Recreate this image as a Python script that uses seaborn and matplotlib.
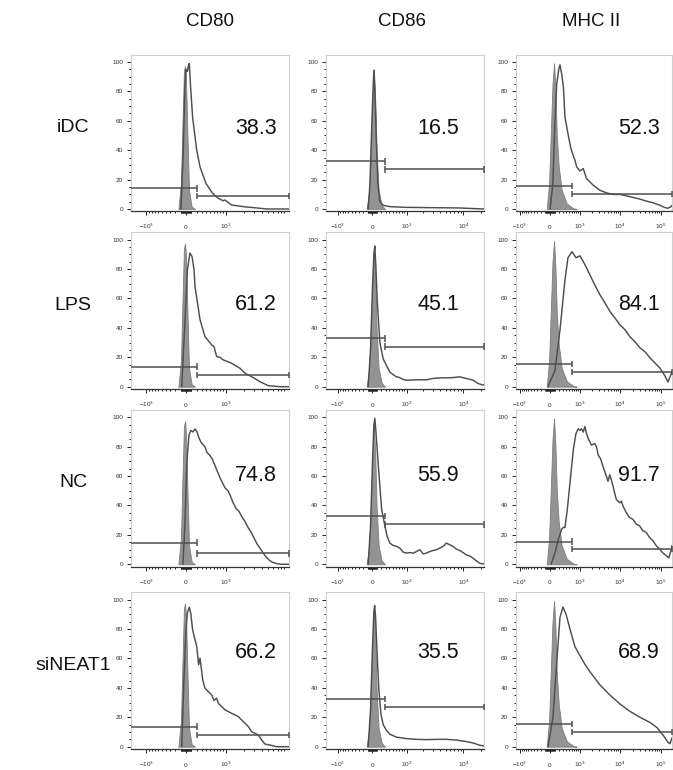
import numpy as np
import matplotlib
matplotlib.use("Agg")
import matplotlib.pyplot as plt
import matplotlib.transforms as mtransforms
import seaborn as sns

# ---------------- data (x in display channel units 0-100, y = % of max) ----------------
markers = ["CD80", "CD86", "MHC II"]
groups = ["iDC", "LPS", "NC", "siNEAT1"]
percents = [["38.3", "16.5", "52.3"],
            ["61.2", "45.1", "84.1"],
            ["74.8", "55.9", "91.7"],
            ["66.2", "35.5", "68.9"]]

# isotype controls (grey filled), one per marker
iso_cd80_x = [30.0, 31.6, 32.7, 33.5, 34.2, 34.8, 35.7, 36.7, 38.4, 40.5]
iso_cd80_y = [0, 17.3, 62.4, 93.9, 97.3, 89.4, 51.1, 12.8, 1.6, 0]
iso_cd86_x = [25.7, 27.4, 28.4, 29.5, 30.3, 31.2, 32.0, 33.3, 35.2, 37.3]
iso_cd86_y = [0, 12.8, 39.9, 73.6, 95.0, 73.6, 39.9, 12.8, 2.7, 0]
iso_mhc_x = [19.7, 21.2, 22.3, 23.4, 24.4, 25.3, 26.1, 27.4, 29.3, 32.5, 36.7, 38.9]
iso_mhc_y = [0, 17.3, 51.1, 84.9, 99.1, 80.4, 51.1, 28.6, 12.8, 3.8, 0.5, 0]

# stained samples (open line)
idc_cd80_x = [31.6, 33.1, 34.2, 34.8, 35.7, 36.5, 36.9, 37.6, 39.0, 41.6, 43.7, 47.5, 51.7, 55.3, 58.4, 59.5, 63.7, 71.1, 81.6, 85.9, 100]
idc_cd80_y = [0, 39.9, 84.9, 95.0, 93.5, 98.4, 98.9, 84.9, 62.4, 39.9, 28.6, 17.3, 10.6, 7.2, 5.6, 6.1, 2.7, 1.6, 0.5, 0, 0]
lps_cd80_x = [32.1, 34.2, 35.7, 37.3, 38.6, 39.9, 40.5, 43.7, 46.8, 51.1, 52.5, 54.2, 56.3, 58.4, 63.7, 69.0, 72.2, 76.4, 81.6, 86.9, 94.3, 100]
lps_cd80_y = [0, 45.5, 79.5, 90.9, 88.6, 79.5, 68.2, 45.5, 34.1, 28.4, 27.3, 20.5, 20.0, 18.2, 15.9, 12.5, 9.1, 6.8, 3.4, 0.7, 0, 0]
nc_cd80_x = [32.9, 34.2, 35.4, 36.7, 37.9, 39.2, 40.5, 41.8, 43.0, 44.3, 46.8, 48.1, 50.0, 51.3, 53.2, 55.1, 56.3, 57.6, 59.5, 61.4, 62.7, 64.6, 66.5, 68.4, 70.3, 72.2, 74.1, 75.9, 77.8, 79.7, 81.6, 83.5, 85.4, 87.3, 89.2, 92.0, 95.0, 100]
nc_cd80_y = [0, 30, 70, 88, 91, 90, 92, 90, 86, 83, 80, 76, 74, 72, 67, 62, 59, 56, 52, 50, 47, 42, 38, 36, 32, 29, 25, 22, 18, 14, 11, 8, 5, 3, 1.5, 0.5, 0, 0]
si_cd80_x = [32.1, 33.5, 34.8, 35.7, 36.9, 37.8, 39.0, 40.5, 41.6, 42.8, 43.7, 44.1, 45.4, 46.8, 48.9, 51.1, 52.5, 54.2, 55.3, 57.4, 59.5, 61.6, 63.7, 65.8, 67.9, 70.0, 72.2, 74.3, 76.4, 78.5, 80.6, 82.7, 84.8, 88.0, 92.2, 100]
si_cd80_y = [0, 45.5, 79.5, 90.9, 95.0, 90.9, 79.5, 72.7, 68.2, 55.7, 60.2, 56.8, 45.5, 39.8, 37.5, 35.2, 31.4, 33.0, 29.5, 27.3, 25.0, 23.9, 22.7, 21.6, 20.5, 18.2, 15.9, 13.6, 10.2, 9.1, 8.0, 4.5, 1.8, 1.1, 0, 0]

idc_cd86_x = [26.7, 27.8, 28.8, 29.7, 30.3, 30.9, 31.8, 32.8, 34.1, 36.2, 40.4, 50.9, 67.8, 84.6, 95.2, 100]
idc_cd86_y = [0, 17, 51, 80, 94.4, 82.4, 48.9, 17.3, 5.0, 2.5, 1.6, 1.1, 0.9, 0.7, 0.2, 0]
lps_cd86_x = [26.7, 28.2, 29.5, 30.3, 30.9, 31.6, 32.4, 34.1, 36.2, 38.3, 40.4, 42.5, 44.6, 46.7, 48.8, 50.9, 57.3, 63.6, 67.8, 72.0, 76.2, 80.4, 84.6, 88.8, 93.1, 96.2, 99.4, 100]
lps_cd86_y = [0, 25.6, 70, 90, 95.6, 81.1, 58.9, 30, 18.9, 14.4, 10, 8.2, 6.7, 6.2, 4.9, 4.4, 4.7, 4.7, 5.6, 6.0, 6.0, 6.2, 6.7, 5.6, 4.4, 2.2, 1.1, 1.5]
nc_cd86_x = [26.7, 28.2, 29.5, 30.3, 30.9, 31.6, 33.1, 35.2, 37.3, 38.7, 40.4, 42.5, 44.6, 46.7, 48.8, 50.9, 53.1, 55.2, 57.3, 59.4, 61.5, 63.6, 65.7, 67.8, 69.9, 72.0, 74.1, 76.2, 78.3, 80.4, 82.5, 84.6, 86.7, 88.8, 90.9, 93.1, 95.2, 97.3, 99.4, 100]
nc_cd86_y = [0, 25.9, 71.8, 94.7, 99.3, 90.1, 67.2, 37.4, 25.9, 19.0, 14.4, 12.8, 12.2, 11.0, 8.3, 7.6, 8.0, 7.6, 8.7, 9.9, 7.1, 7.6, 8.7, 9.4, 9.9, 11.0, 12.2, 14.4, 13.3, 12.2, 10.3, 9.4, 8.0, 6.4, 5.7, 4.1, 2.3, 0.7, 0.2, 0.7]
si_cd86_x = [26.7, 28.2, 29.5, 30.3, 30.8, 31.4, 32.4, 33.5, 34.8, 36.2, 38.3, 40.4, 44.6, 50.9, 57.3, 63.6, 69.9, 76.2, 82.5, 88.8, 93.1, 97.3, 100]
si_cd86_y = [0, 25, 70, 92, 96, 88, 62, 38, 22, 15, 11, 8.5, 6.5, 5.5, 5, 4.8, 5, 5, 4.5, 3.5, 2.5, 1, 0.5]

idc_mhc_x = [21.9, 23.6, 25.1, 26.1, 27.4, 28.2, 29.3, 30.4, 31.4, 32.9, 35.0, 36.3, 37.8, 38.9, 41.0, 43.1, 45.2, 49.5, 53.7, 58.0, 62.2, 66.5, 70.7, 74.9, 79.2, 83.4, 87.7, 91.9, 95.1, 97.2, 99.4, 100]
idc_mhc_y = [0, 17.3, 62.4, 84.9, 95.0, 98.0, 91.7, 82.7, 62.4, 53.6, 42.1, 37.6, 33.1, 28.6, 25.9, 27.5, 20.7, 16.2, 12.8, 11.0, 9.9, 9.9, 9.0, 7.9, 6.8, 5.4, 4.3, 2.7, 1.1, 0.5, 1.6, 2.5]
lps_mhc_x = [20.5, 25.0, 28.2, 31.4, 33.3, 35.9, 38.5, 41.0, 44.2, 47.4, 50.6, 53.8, 57.0, 60.3, 63.5, 66.7, 70.0, 73.0, 76.3, 79.5, 82.7, 85.9, 89.0, 92.3, 95.5, 97.4, 98.7, 100]
lps_mhc_y = [0, 11, 38.6, 72.7, 87.7, 91.8, 87.7, 89, 83, 76, 69, 62.5, 57, 51, 46.6, 42, 38.6, 34, 30.5, 26.4, 23.7, 19.6, 16.2, 12.7, 7.3, 3.2, 6.6, 10]
nc_mhc_x = [22.5, 25.1, 27.2, 29.3, 30.4, 31.4, 32.9, 34.6, 36.7, 38.4, 39.9, 41.0, 42.0, 43.1, 44.2, 45.2, 46.3, 48.4, 50.5, 51.6, 52.7, 54.1, 55.8, 58.0, 59.0, 60.1, 61.1, 62.2, 64.3, 66.5, 67.5, 68.6, 70.7, 72.8, 74.9, 77.1, 79.2, 81.3, 83.4, 85.6, 87.7, 89.8, 91.9, 94.1, 96.2, 97.9, 99.4, 100]
nc_mhc_y = [0, 8.3, 17.2, 23.9, 25.1, 25.1, 37.4, 55.3, 77.6, 88.8, 92.2, 91.1, 92.2, 89.9, 93.7, 88.8, 85.5, 81.0, 82.1, 79.9, 74.3, 72.0, 66.4, 59.7, 56.4, 60.9, 57.5, 53.0, 44.1, 41.8, 43.0, 39.6, 35.1, 31.8, 30.6, 27.3, 26.2, 22.8, 21.7, 18.3, 16.1, 12.8, 10.5, 7.8, 6.0, 4.3, 9.4, 12.8]
si_mhc_x = [20.5, 23.7, 26.3, 28.2, 30.1, 32.1, 34.6, 37.8, 41.0, 44.2, 47.4, 53.8, 60.3, 66.7, 73.1, 79.5, 85.9, 90.4, 94.2, 97.4, 98.7, 100]
si_mhc_y = [0, 20, 60, 88, 95, 90, 80, 68, 62, 56, 51, 42, 35, 29, 24, 20, 16.5, 13, 8, 3, 2, 6]

# gates: (split position, left gate level, right gate level)
gate_cut = [41.6, 37.3, 35.7]
gate_left = [[14.0, 32.4, 15.5], [13.6, 32.9, 15.5], [14.7, 32.8, 15.4], [13.6, 32.5, 15.5]]
gate_right = [[8.8, 27.0, 10.1], [8.0, 27.3, 10.0], [7.5, 27.1, 10.5], [8.0, 27.0, 10.0]]

iso_x = [iso_cd80_x, iso_cd86_x, iso_mhc_x]
iso_y = [iso_cd80_y, iso_cd86_y, iso_mhc_y]
samp_x = [[idc_cd80_x, idc_cd86_x, idc_mhc_x], [lps_cd80_x, lps_cd86_x, lps_mhc_x],
          [nc_cd80_x, nc_cd86_x, nc_mhc_x], [si_cd80_x, si_cd86_x, si_mhc_x]]
samp_y = [[idc_cd80_y, idc_cd86_y, idc_mhc_y], [lps_cd80_y, lps_cd86_y, lps_mhc_y],
          [nc_cd80_y, nc_cd86_y, nc_mhc_y], [si_cd80_y, si_cd86_y, si_mhc_y]]

# ---------------- styling / layout ----------------
sns.set_theme(style="white")
plt.rcParams["font.family"] = ["Liberation Sans", "DejaVu Sans"]
plt.rcParams["mathtext.fontset"] = "custom"
plt.rcParams["mathtext.rm"] = "Liberation Sans"
plt.rcParams["mathtext.it"] = "Liberation Sans"

W, H = 673, 770
fig = plt.figure(figsize=(W / 100, H / 100), dpi=100)

col_left = [131, 326, 516]
col_width = [158, 158, 156]
row_bottom = [211.2, 388.9, 566.5, 748.9]
ax_h = 156.6

# biexponential-like display scale parameters per marker (a, b, c)
scale_par = [(0.348, 0.1738, 500.0), (0.293, 0.1604, 550.0), (0.218, 0.1136, 380.0)]
major_vals = [[-1e3, 0, 1e3], [-1e3, 0, 1e3, 1e4], [-1e3, 0, 1e3, 1e4, 1e5]]
major_labs = [[r"$\mathregular{-10^{3}}$", "0", r"$\mathregular{10^{3}}$"],
              [r"$\mathregular{-10^{3}}$", "0", r"$\mathregular{10^{3}}$", r"$\mathregular{10^{4}}$"],
              [r"$\mathregular{-10^{3}}$", "0", r"$\mathregular{10^{3}}$", r"$\mathregular{10^{4}}$", r"$\mathregular{10^{5}}$"]]

def disp(v, p):
    a, b, c = p
    return 100 * (a + b * np.arcsinh(np.asarray(v, float) / c))

minor_vals = np.concatenate([np.arange(-900, -99, 100), np.arange(-90, 0, 10), np.arange(10, 100, 10),
                             np.arange(100, 1000, 100), np.arange(2000, 10000, 1000),
                             np.arange(20000, 100000, 10000), np.arange(200000, 300000, 100000)])

line_col = "#4e4e4e"
gate_col = "#505050"

for r in range(4):
    for c in range(3):
        left = col_left[c] / W
        bottom = 1 - row_bottom[r] / H
        ax = fig.add_axes([left, bottom, col_width[c] / W, ax_h / H])
        ax.fill_between(iso_x[c], iso_y[c], 0, facecolor="#939393", edgecolor="#7d7d7d", lw=0.6, zorder=2)
        sns.lineplot(x=samp_x[r][c], y=samp_y[r][c], ax=ax, color=line_col, lw=1.05,
                     sort=False, estimator=None, zorder=3)
        g = gate_cut[c]
        yl, yr = gate_left[r][c], gate_right[r][c]
        kw = dict(color=gate_col, lw=1.1, zorder=4, clip_on=False, solid_capstyle="butt")
        ax.plot([0, g], [yl, yl], **kw)
        ax.plot([g, g], [yl - 2.2, yl + 2.2], **kw)
        ax.plot([g, 100], [yr, yr], **kw)
        ax.plot([g, g], [yr - 2.2, yr + 2.2], **kw)
        ax.plot([100, 100], [yr - 2.2, yr + 2.2], **kw)

        ax.set_xlim(0, 100)
        ax.set_ylim(-1.5, 105)
        ax.set_xlabel("")
        ax.set_ylabel("")

        p = scale_par[c]
        ax.set_xticks(disp(major_vals[c], p))
        ax.set_xticklabels(major_labs[c], va="baseline")
        mv = disp(minor_vals, p)
        ax.set_xticks(mv[(mv > 0.5) & (mv < 99.5)], minor=True)
        ax.set_yticks(np.arange(0, 101, 20))
        ax.set_yticks(np.arange(5, 101, 5), minor=True)
        ax.tick_params(axis="both", which="both", direction="out", colors="#222222", width=0.7,
                       labelsize=4.6, labelcolor="#333333")
        ax.tick_params(axis="x", which="major", length=2.9, pad=10)
        ax.tick_params(axis="x", which="minor", length=1.6)
        ax.tick_params(axis="y", which="major", length=3.2, pad=2.5)
        ax.tick_params(axis="y", which="minor", length=1.5)
        ax.tick_params(bottom=True, left=True, which="both")
        for s in ["top", "right", "left"]:
            ax.spines[s].set_color("#cfcfcf")
            ax.spines[s].set_linewidth(0.8)
        ax.spines["bottom"].set_color("#333333")
        ax.spines["bottom"].set_linewidth(0.9)

        num_y = [54.5, 56.0, 60.5, 64.0][r]
        num_x = [79, 71, 78.8][c]
        ax.text(num_x, num_y, percents[r][c], ha="center", va="center", fontsize=15.5, color="#111111")

        if c == 0:
            trans = mtransforms.blended_transform_factory(fig.transFigure, ax.transData)
            ax.text(73 / W, 55.5, groups[r], transform=trans, ha="center", va="center",
                    fontsize=14, color="#111111")
        if r == 0:
            fig.text([210, 402, 591][c] / W, 1 - 22 / H, markers[c], ha="center", va="center",
                     fontsize=13.5, color="#111111")

fig.savefig("out.png", dpi=100, facecolor="white")
